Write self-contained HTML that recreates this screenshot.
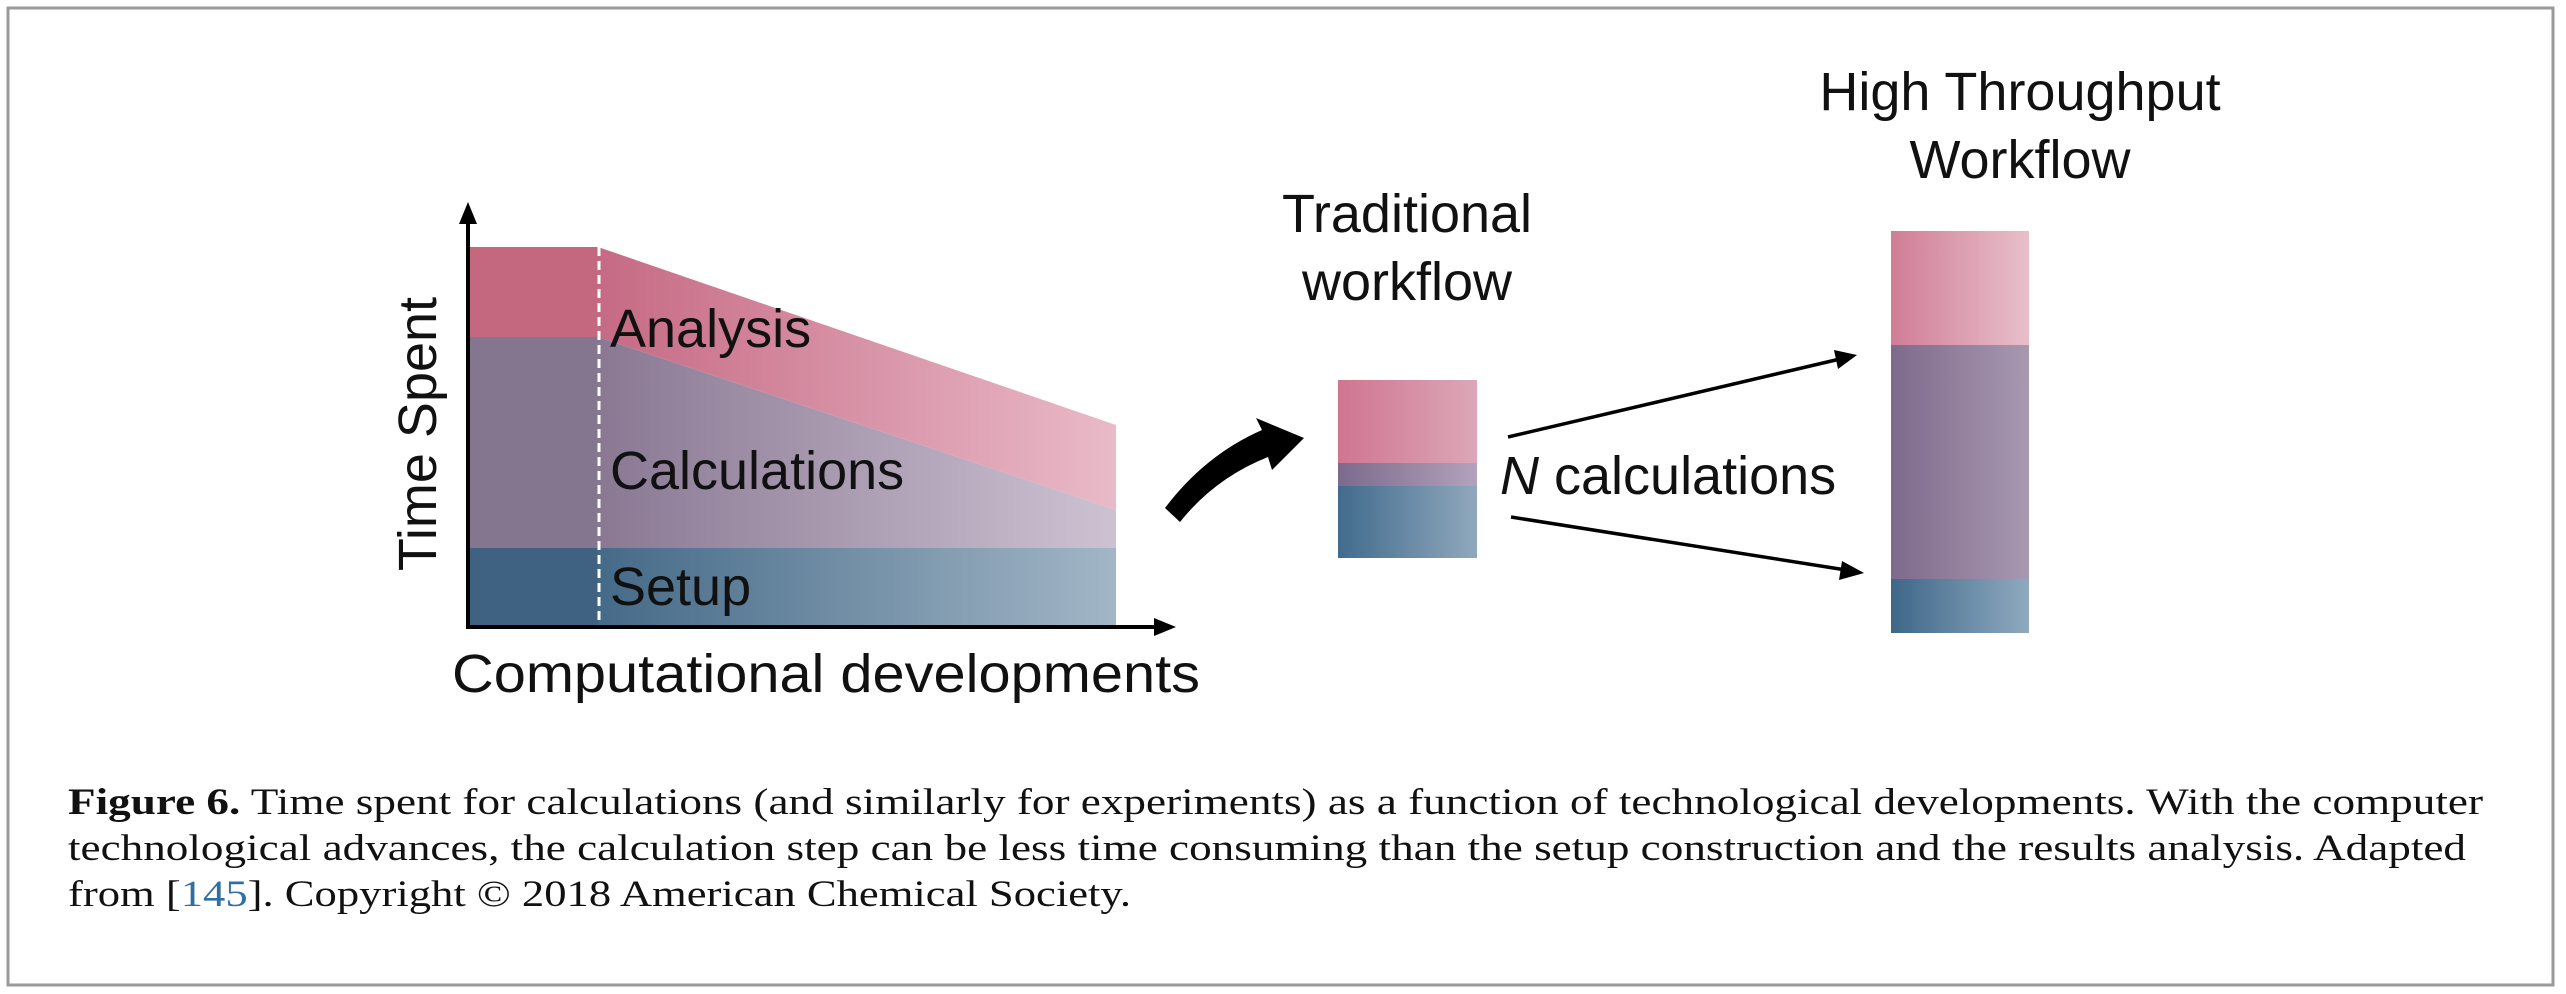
<!DOCTYPE html>
<html><head><meta charset="utf-8"><style>
html,body{margin:0;padding:0;background:#fff;}
svg{display:block;}
</style></head><body>
<svg width="2566" height="994" viewBox="0 0 2566 994" xmlns="http://www.w3.org/2000/svg">
<defs>
<linearGradient id="gA" x1="0" x2="1"><stop offset="0" stop-color="#c66a84"/><stop offset="1" stop-color="#e9bac8"/></linearGradient>
<linearGradient id="gC" x1="0" x2="1"><stop offset="0" stop-color="#8a7893"/><stop offset="1" stop-color="#cdc2d2"/></linearGradient>
<linearGradient id="gS" x1="0" x2="1"><stop offset="0" stop-color="#456a88"/><stop offset="1" stop-color="#a2b6c6"/></linearGradient>
<linearGradient id="tA" x1="0" x2="1"><stop offset="0" stop-color="#cf7590"/><stop offset="1" stop-color="#dca7b8"/></linearGradient>
<linearGradient id="tC" x1="0" x2="1"><stop offset="0" stop-color="#7b6a8b"/><stop offset="1" stop-color="#b2a2bc"/></linearGradient>
<linearGradient id="tS" x1="0" x2="1"><stop offset="0" stop-color="#416b8c"/><stop offset="1" stop-color="#90a8bd"/></linearGradient>
<linearGradient id="hA" x1="0" x2="1"><stop offset="0" stop-color="#d07d96"/><stop offset="1" stop-color="#e8bfcb"/></linearGradient>
<linearGradient id="hC" x1="0" x2="1"><stop offset="0" stop-color="#7e6a8c"/><stop offset="1" stop-color="#a898b0"/></linearGradient>
<linearGradient id="hS" x1="0" x2="1"><stop offset="0" stop-color="#3e6789"/><stop offset="1" stop-color="#8faabf"/></linearGradient>
</defs>
<rect x="8" y="8" width="2545" height="977" fill="none" stroke="#9a9a9a" stroke-width="3"/>

<rect x="468" y="247" width="130" height="90" fill="#c4687f"/>
<rect x="468" y="337" width="130" height="211" fill="#85768f"/>
<rect x="468" y="548" width="130" height="79" fill="#3f6283"/>
<polygon points="598,247 1116,425 1116,510 598,337" fill="url(#gA)"/>
<polygon points="598,337 1116,510 1116,548 598,548" fill="url(#gC)"/>
<rect x="598" y="548" width="518" height="79" fill="url(#gS)"/>
<line x1="599" y1="247" x2="599" y2="627" stroke="#fff" stroke-width="3" stroke-dasharray="9,5"/>

<line x1="468" y1="627" x2="468" y2="220" stroke="#000" stroke-width="4"/>
<polygon points="468,202 459,224 477,224" fill="#000"/>
<line x1="466" y1="627" x2="1155" y2="627" stroke="#000" stroke-width="4"/>
<polygon points="1176,627 1154,618 1154,636" fill="#000"/>

<g font-family="Liberation Sans, sans-serif" font-size="54" fill="#111">
<text x="610" y="347">Analysis</text>
<text x="610" y="489">Calculations</text>
<text x="610" y="605">Setup</text>
<text transform="translate(436,434) rotate(-90)" text-anchor="middle">Time Spent</text>
<text x="452" y="692" textLength="748" lengthAdjust="spacingAndGlyphs">Computational developments</text>
<text x="1407" y="232" text-anchor="middle">Traditional</text>
<text x="1407" y="300" text-anchor="middle">workflow</text>
<text x="2020" y="110" text-anchor="middle">High Throughput</text>
<text x="2020" y="178" text-anchor="middle">Workflow</text>
<text x="1500" y="494"><tspan font-style="italic">N</tspan> calculations</text>
</g>

<path d="M1165,508 Q1205,455 1262,430 L1256,418 L1304,438 L1272,470 L1268,457 Q1215,478 1180,522 Z" fill="#000"/>

<rect x="1338" y="380" width="139" height="83" fill="url(#tA)"/>
<rect x="1338" y="463" width="139" height="23" fill="url(#tC)"/>
<rect x="1338" y="486" width="139" height="72" fill="url(#tS)"/>

<line x1="1508" y1="437" x2="1840" y2="359" stroke="#000" stroke-width="3.5"/>
<polygon points="1857,355 1834,350 1838,369" fill="#000"/>
<line x1="1511" y1="517" x2="1846" y2="570" stroke="#000" stroke-width="3.5"/>
<polygon points="1864,573 1842,561 1839,580" fill="#000"/>

<rect x="1891" y="231" width="138" height="114" fill="url(#hA)"/>
<rect x="1891" y="345" width="138" height="234" fill="url(#hC)"/>
<rect x="1891" y="579" width="138" height="54" fill="url(#hS)"/>

<g font-family="Liberation Serif, serif" font-size="37" fill="#111">
<text x="68" y="814" textLength="2415" lengthAdjust="spacingAndGlyphs"><tspan font-weight="bold">Figure 6.</tspan> Time spent for calculations (and similarly for experiments) as a function of technological developments. With the computer</text>
<text x="68" y="860" textLength="2398" lengthAdjust="spacingAndGlyphs">technological advances, the calculation step can be less time consuming than the setup construction and the results analysis. Adapted</text>
<text x="68" y="906" textLength="1063" lengthAdjust="spacingAndGlyphs">from [<tspan fill="#2f6fa3">145</tspan>]. Copyright © 2018 American Chemical Society.</text>
</g>
</svg>
</body></html>
